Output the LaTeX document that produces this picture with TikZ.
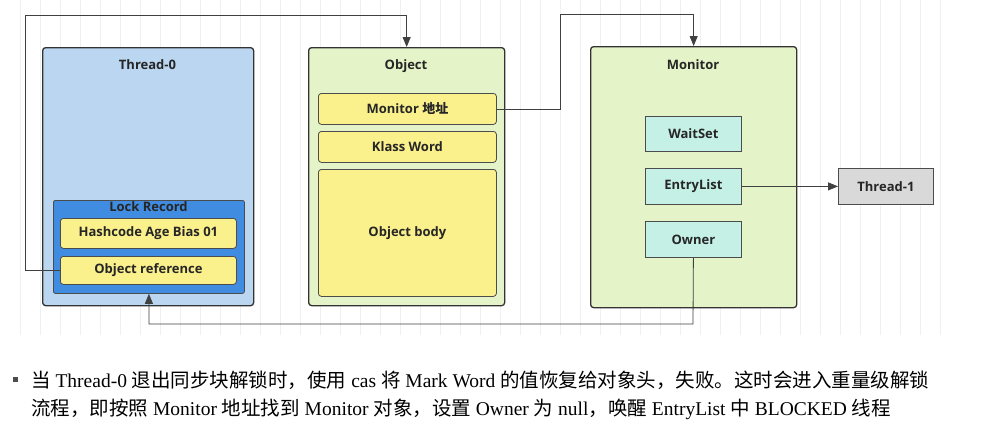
\documentclass[tikz,border=0pt]{standalone}
\usepackage{fontspec}
\setmainfont{Liberation Serif}
\newfontfamily\cjk{Noto Sans CJK SC}
\newfontfamily\lbl{Open Sans}
\usetikzlibrary{arrows.meta}
\definecolor{tblue}{RGB}{186,214,240}
\definecolor{lrblue}{RGB}{64,140,224}
\definecolor{ygreen}{RGB}{228,244,200}
\definecolor{yel}{RGB}{250,240,140}
\definecolor{teal}{RGB}{196,240,230}
\begin{document}
\begin{tikzpicture}[x=1pt,y=-1pt,
  lab/.style={font=\lbl\bfseries\fontsize{13}{15}\selectfont,text=black!85},
  big/.style={draw=black!80,line width=1.3pt,rounded corners=3pt},
  ybox/.style={draw=black!70,line width=0.8pt,rounded corners=3pt,fill=yel,lab},
  tbox/.style={draw=black!70,line width=0.8pt,fill=teal,lab},
  con/.style={draw=black!75,line width=0.8pt},
  arr/.style={con,-{Triangle[length=10pt,width=8pt]}}]
\useasboundingbox (0,0) rectangle (981,439);
\fill[white] (0,0) rectangle (981,439);
\draw[black!6] (20,0) grid[step=20] (940,335);
% Thread-0
\node[big,fill=tblue,minimum width=211,minimum height=258,anchor=north west] (t0) at (42,47) {};
\node[lab,anchor=north] at (147.5,56) {Thread-0};
\node[draw=black!70,line width=0.8pt,rounded corners=2pt,fill=lrblue,minimum width=191,minimum height=93,anchor=north west] (lr) at (53,200) {};
\node[lab,anchor=north,inner sep=0] at (148.5,201) {Lock Record};
\node[ybox,minimum width=176,minimum height=30,anchor=north west] (hc) at (60,218) {Hashcode Age Bias 01};
\node[ybox,minimum width=176,minimum height=28,anchor=north west] (or) at (60,256) {Object reference};
% Object
\node[big,fill=ygreen,minimum width=196,minimum height=258,anchor=north west] (obj) at (308,47) {};
\node[lab,anchor=north] at (406,56) {Object};
\node[ybox,minimum width=178,minimum height=31,anchor=north west] (ma) at (318,93) {Monitor {\cjk\bfseries 地址}};
\node[ybox,minimum width=178,minimum height=31,anchor=north west] (kw) at (318,131) {Klass Word};
\node[ybox,minimum width=178,minimum height=127,anchor=north west] (ob) at (318,169) {Object body};
% Monitor
\node[big,fill=ygreen,minimum width=206,minimum height=261,anchor=north west] (mon) at (590,46) {};
\node[lab,anchor=north] at (693,56) {Monitor};
\node[tbox,minimum width=96,minimum height=35,anchor=north west] (ws) at (645,116) {WaitSet};
\node[tbox,minimum width=96,minimum height=36,anchor=north west] (el) at (645,168) {EntryList};
\node[tbox,minimum width=96,minimum height=36,anchor=north west] (ow) at (645,221) {Owner};
\node[draw=black!70,line width=0.8pt,fill=black!15,lab,minimum width=95,minimum height=36,anchor=north west] (t1) at (838,168) {Thread-1};
% connectors
\coordinate (c1) at (25,15);
\coordinate (c2) at (560,14);
\coordinate (c3) at (693,324);
\draw[arr] (or.west) -| (c1) -| (obj.north);
\draw[arr] (ma.east) -| (c2) -| (mon.north);
\draw[arr] (ow.south) -- (c3) -| (lr.south);
\draw[arr] (el.east) -- (t1.west);
% text
\fill[black!70] (13,377) rectangle (18,382);
\node[anchor=west,font=\fontsize{19.5}{23}\selectfont,inner sep=0] (l1) at (31,380) {{\cjk 当} Thread-0 {\cjk 退出同步块解锁时，使用} cas {\cjk 将} Mark Word {\cjk 的值恢复给对象头，失败。这时会进入重量级解锁}};
\node[anchor=west,font=\fontsize{19.5}{23}\selectfont,inner sep=0] (l2) at (31,409) {{\cjk 流程，即按照} Monitor {\cjk 地址找到} Monitor {\cjk 对象，设置} Owner {\cjk 为} null{\cjk ，唤醒} EntryList {\cjk 中} BLOCKED {\cjk 线程}};
\end{tikzpicture}
\end{document}
